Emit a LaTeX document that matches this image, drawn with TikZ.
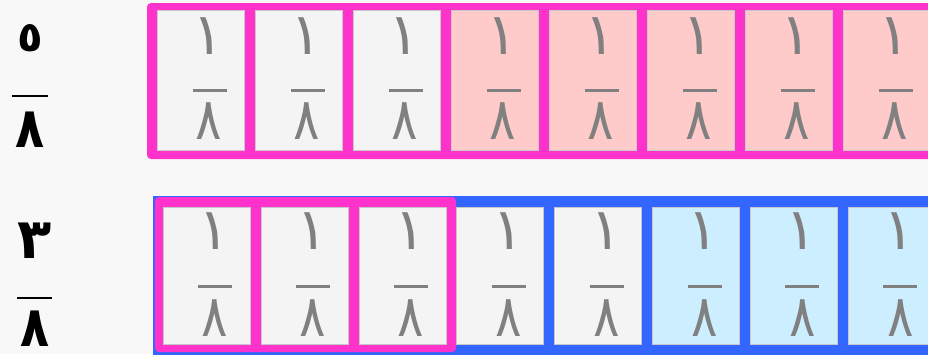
\documentclass[tikz,border=0pt]{standalone}
\usepackage{fontspec}
\newfontfamily\arabicfont[Script=Arabic]{DejaVu Sans}
\definecolor{bgc}{HTML}{F8F8F8}
\definecolor{pinkb}{HTML}{FF33CC}
\definecolor{blueb}{HTML}{3366FF}
\definecolor{pinkf}{HTML}{FFCACA}
\definecolor{bluef}{HTML}{CCEEFF}
\definecolor{grayf}{HTML}{F4F4F4}
\definecolor{cellline}{HTML}{C8C8C8}
\definecolor{digitc}{HTML}{808080}
\tikzset{
  cellbox/.style={draw=cellline, line width=0.6pt},
  celldigit/.style={inner sep=0pt, text=digitc, font=\arabicfont\fontsize{58}{58}\selectfont},
  cellbar/.style={draw=digitc, line width=3pt},
  labdigit/.style={inner sep=0pt, text=black, font=\arabicfont\bfseries\fontsize{56}{56}\selectfont},
  labbar/.style={draw=black, line width=2.5pt}
}
\begin{document}
\begin{tikzpicture}[x=1pt,y=-1pt]
\useasboundingbox (0,0) rectangle (928,354);
\fill[bgc] (0,0) rectangle (928,354);
% top row
\fill[pinkb, rounded corners=4pt] (147,3) rectangle (945,159);
\foreach \i in {0,...,7}{
  \pgfmathsetmacro{\xo}{157+98*\i}
  \ifnum\i<3 \def\fc{grayf}\else\def\fc{pinkf}\fi
  \path[cellbox, fill=\fc] (\xo,10) rectangle ++(87,140);
  \node[celldigit] (tn\i) at (\xo+51,36) {١};
  \node[celldigit, xscale=0.85] (td\i) at (\xo+52,121) {٨};
  \coordinate (tbl\i) at (\xo+36,90);
  \coordinate (tbr\i) at (\xo+70,90);
  \draw[cellbar] (tbl\i) -- (tbr\i);
}
% bottom row
\fill[blueb] (153,196) rectangle (945,360);
\fill[pinkb, rounded corners=4pt] (155,197) rectangle (456,352);
\foreach \i in {0,...,7}{
  \pgfmathsetmacro{\xo}{163+97.9*\i}
  \ifnum\i<5 \def\fc{grayf}\else\def\fc{bluef}\fi
  \path[cellbox, fill=\fc] (\xo,207) rectangle ++(87,137);
  \node[celldigit] (bn\i) at (\xo+51,231) {١};
  \node[celldigit, xscale=0.85] (bd\i) at (\xo+52,318) {٨};
  \coordinate (bbl\i) at (\xo+35,286);
  \coordinate (bbr\i) at (\xo+69,286);
  \draw[cellbar] (bbl\i) -- (bbr\i);
}
% left labels
\node[labdigit, scale=0.75] (l5) at (30,38) {٥};
\coordinate (l5a) at (12,96);
\coordinate (l5b) at (48,96);
\draw[labbar] (l5a) -- (l5b);
\node[labdigit, xscale=0.85] (l8a) at (30,130) {٨};
\node[labdigit] (l3) at (35,241) {٣};
\coordinate (l3a) at (17,298);
\coordinate (l3b) at (52,298);
\draw[labbar] (l3a) -- (l3b);
\node[labdigit, xscale=0.85] (l8b) at (35,329) {٨};
\end{tikzpicture}
\end{document}
